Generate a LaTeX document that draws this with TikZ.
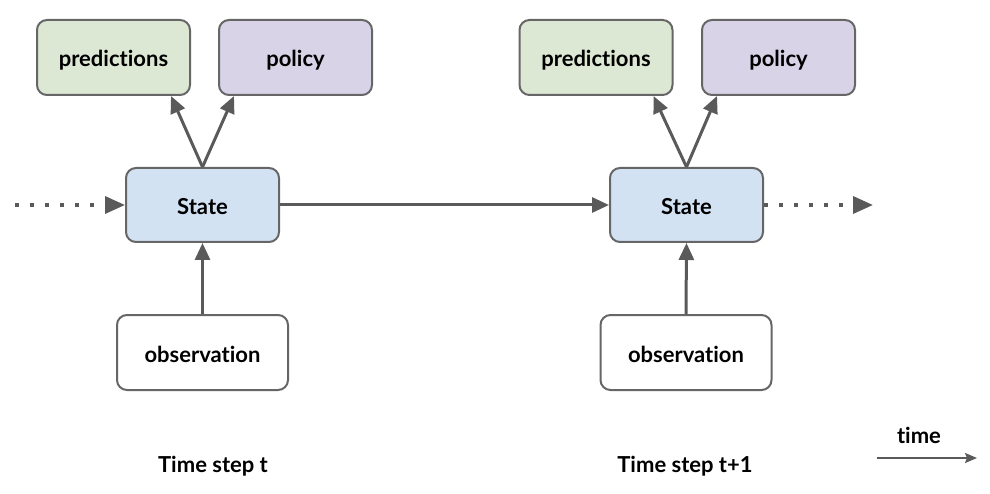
\documentclass[tikz,border=0pt]{standalone}
\usepackage{fontspec}
\setmainfont{Lato}[Ligatures=NoCommon]
\usetikzlibrary{arrows.meta}
\definecolor{edge}{HTML}{666666}
\definecolor{arr}{HTML}{5A5A5A}
\definecolor{predfill}{HTML}{DDE8D4}
\definecolor{polfill}{HTML}{D9D3E8}
\definecolor{statefill}{HTML}{D3E2F3}
\tikzset{
  txt/.style={font=\fontsize{22}{26}\selectfont\bfseries, text=black,
    text height=19pt, text depth=0pt, inner sep=0pt},
  box/.style={txt, draw=edge, line width=2pt, rounded corners=10pt,
    minimum width=153pt, minimum height=75pt},
  predbox/.style={box, fill=predfill},
  polbox/.style={box, fill=polfill},
  statebox/.style={box, fill=statefill, minimum height=74pt},
  obsbox/.style={box, fill=white, minimum width=171pt},
  flow/.style={draw=arr, line width=3pt, -{Triangle[length=17pt,width=15pt]}},
  dotflow/.style={draw=arr, line width=3.5pt, dash pattern=on 3.5pt off 11.5pt,
    -{Triangle[length=20pt,width=17pt]}},
  label/.style={txt},
  timeflow/.style={draw=arr, line width=2pt, -{Stealth[length=12pt,width=10pt,inset=2pt]}}
}
\begin{document}
\begin{tikzpicture}[x=1pt,y=-1pt]
\useasboundingbox (0,0) rectangle (990,494);
% time step t
\node[predbox] (pL) at (113.5,57.5) {predictions};
\node[polbox] (qL) at (295.5,57.5) {policy};
\node[statebox] (sL) at (202.5,205) {State};
\node[obsbox] (oL) at (202.5,352.5) {observation};
% time step t+1
\node[predbox] (pR) at (596,57.5) {predictions};
\node[polbox] (qR) at (778.5,57.5) {policy};
\node[statebox] (sR) at (686.5,205) {State};
\node[obsbox] (oR) at (686,352.5) {observation};
% free ends
\coordinate (inL) at (15,205);
\coordinate (outR) at (873,205);
\coordinate (ta) at (877,458);
\coordinate (tb) at (977,458);
% connectors
\draw[flow] (sL.north) -- ([xshift=-20pt]pL.south east);
\draw[flow] (sL.north) -- ([xshift=16pt]qL.south west);
\draw[flow] (oL.north) -- (sL.south);
\draw[flow] (sL.east) -- (sR.west);
\draw[flow] (sR.north) -- ([xshift=-20pt]pR.south east);
\draw[flow] (sR.north) -- ([xshift=16pt]qR.south west);
\draw[flow] (oR.north) -- (sR.south);
\draw[dotflow] (inL) -- (sL.west);
\draw[dotflow] (sR.east) -- (outR);
\draw[timeflow] (ta) -- (tb);
% labels
\node[label] (tL) at (213,463) {Time step t};
\node[label] (tR) at (685,463) {Time step t+1};
\node[label] (tm) at (919,434) {time};
\end{tikzpicture}
\end{document}
